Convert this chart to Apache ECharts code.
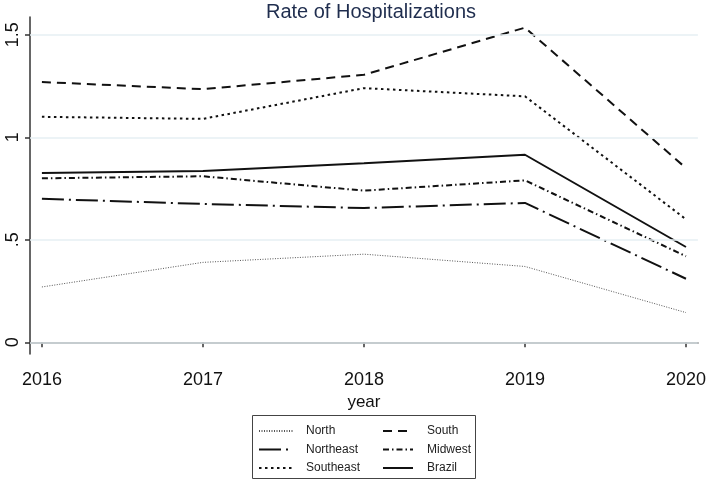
<!DOCTYPE html>
<html>
<head>
<meta charset="utf-8">
<script src="https://cdn.jsdelivr.net/npm/echarts@6/dist/echarts.min.js"></script>
<style>html,body{margin:0;padding:0;background:#fff;}#c{width:709px;height:481px;}</style>
</head>
<body>
<div id="c"></div>
<script>
var years = [2016, 2017, 2018, 2019, 2020];
var yTicks = [0, 0.5, 1, 1.5];
var north = [0.27, 0.39, 0.43, 0.37, 0.145];
var south = [1.27, 1.235, 1.305, 1.535, 0.85];
var northeast = [0.70, 0.675, 0.655, 0.68, 0.31];
var midwest = [0.80, 0.81, 0.74, 0.79, 0.42];
var southeast = [1.10, 1.09, 1.24, 1.20, 0.60];
var brazil = [0.826, 0.836, 0.873, 0.915, 0.465];

function pairs(vals) { return years.map(function (y, i) { return [y, vals[i]]; }); }
var FONT = 'Liberation Sans, Arial, sans-serif';
function line(name, vals, type, width, color) {
  return {
    name: name, type: 'line', data: pairs(vals), symbol: 'none', z: 3,
    lineStyle: { color: color || '#111', width: width, type: type },
    itemStyle: { color: color || '#111' }
  };
}
var legendCommon = {
  orient: 'vertical', top: 425, padding: 0, itemHeight: 14, itemGap: 6.5,
  itemStyle: { color: 'rgba(0,0,0,0)', borderWidth: 0, opacity: 0 },
  textStyle: { fontFamily: FONT, fontSize: 12, color: '#222' }
};
var chart = echarts.init(document.getElementById('c'));
chart.setOption({
  animation: false,
  backgroundColor: '#fff',
  title: {
    text: 'Rate of Hospitalizations', left: 366, top: -3, textAlign: 'center',
    textStyle: { fontFamily: FONT, fontSize: 20, fontWeight: 'normal', color: '#1f2d4e' }
  },
  grid: { left: 30, right: 8, top: 17, bottom: 127 },
  xAxis: {
    type: 'value', min: 2015.926, max: 2020.074,
    name: 'year', nameLocation: 'middle', nameGap: 34,
    nameTextStyle: { fontFamily: FONT, fontSize: 17, color: '#111' },
    axisLine: { lineStyle: { color: '#333', width: 1.5 } },
    axisTick: { show: true, length: 5, customValues: years, lineStyle: { color: '#333', width: 1.5 } },
    axisLabel: { customValues: years, margin: 17, fontFamily: FONT, fontSize: 18, color: '#111', formatter: function (v) { return String(v); } },
    splitLine: { show: false }
  },
  yAxis: {
    type: 'value', min: -0.057, max: 1.587,
    axisLine: { show: true, lineStyle: { color: '#333', width: 1.5 } },
    axisTick: { show: true, length: 5, customValues: yTicks, lineStyle: { color: '#333', width: 1.5 } },
    axisLabel: {
      customValues: yTicks, rotate: 90, margin: 8, fontFamily: FONT, fontSize: 18, color: '#111',
      formatter: function (v) { return String(v).replace(/^0\./, '.'); }
    },
    splitLine: { show: false }
  },
  legend: [
    Object.assign({}, legendCommon, {
      data: ['North', 'Northeast', 'Southeast'], left: 258, itemWidth: 34,
      textStyle: Object.assign({}, legendCommon.textStyle, { padding: [0, 0, 0, 8] })
    }),
    Object.assign({}, legendCommon, {
      data: ['South', 'Midwest', 'Brazil'], left: 382, itemWidth: 30,
      textStyle: Object.assign({}, legendCommon.textStyle, { padding: [0, 0, 0, 9] })
    })
  ],
  graphic: [
    { type: 'rect', shape: { x: 252.5, y: 415.5, width: 223, height: 63 }, style: { fill: 'none', stroke: '#444', lineWidth: 1 }, silent: true }
  ],
  series: [
    {
      name: 'grid', type: 'line', data: [], z: 1, silent: true,
      markLine: {
        silent: true, symbol: 'none', label: { show: false },
        lineStyle: { color: '#e6eff3', type: 'solid', width: 1.5 },
        data: yTicks.map(function (v) { return { yAxis: v }; })
      }
    },
    line('North', north, [1, 1.5], 1, '#555'),
    line('Northeast', northeast, [22, 5, 2, 5], 2),
    line('Southeast', southeast, [2.5, 3.5], 2),
    line('South', south, [9, 6], 2),
    line('Midwest', midwest, [6, 3, 1.5, 3], 2),
    line('Brazil', brazil, 'solid', 2)
  ]
});
</script>
</body>
</html>
